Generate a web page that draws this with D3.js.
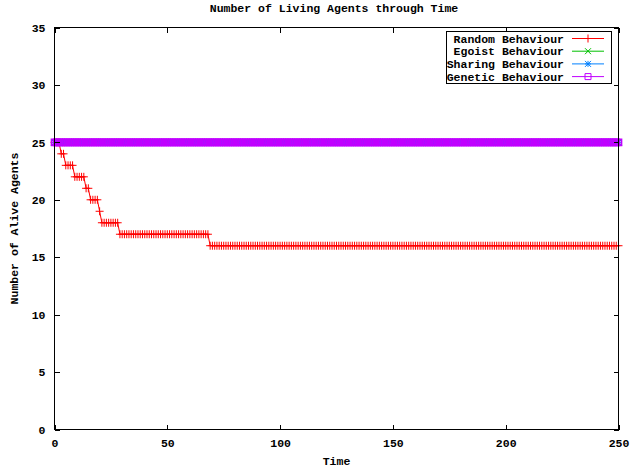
<!DOCTYPE html>
<html><head><meta charset="utf-8">
<script src="https://cdn.jsdelivr.net/npm/d3@7"></script>
<style>
body{margin:0;background:#fff}
text{font-family:"Liberation Mono","DejaVu Sans Mono",monospace;font-weight:bold;font-size:11.5px;fill:#000}
</style>
</head><body><svg id="c" width="631" height="472"></svg>
<script>
// ---- data ----
const title = "Number of Living Agents through Time";
const xLabel = "Time";
const yLabel = "Number of Alive Agents";
const xTicks = [0, 50, 100, 150, 200, 250];
const yTicks = [0, 5, 10, 15, 20, 25, 30, 35];
const seriesNames = ["Random Behaviour", "Egoist Behaviour", "Sharing Behaviour", "Genetic Behaviour"];
const seriesColors = ["#ff0000", "#00c000", "#0080ff", "#c000ff"];
const seriesMarkers = ["plus", "cross", "star", "square"];

// Time 0..250, one value per time step
const randomBehaviour = [
25,25,25,24,24,23,23,23,23,22,22,22,22,22,21,21,20,20,20,20,19,18,18,18,18,
18,18,18,18,17,17,17,17,17,17,17,17,17,17,17,17,17,17,17,17,17,17,17,17,17,
17,17,17,17,17,17,17,17,17,17,17,17,17,17,17,17,17,17,17,16,16,16,16,16,16,
16,16,16,16,16,16,16,16,16,16,16,16,16,16,16,16,16,16,16,16,16,16,16,16,16,
16,16,16,16,16,16,16,16,16,16,16,16,16,16,16,16,16,16,16,16,16,16,16,16,16,
16,16,16,16,16,16,16,16,16,16,16,16,16,16,16,16,16,16,16,16,16,16,16,16,16,
16,16,16,16,16,16,16,16,16,16,16,16,16,16,16,16,16,16,16,16,16,16,16,16,16,
16,16,16,16,16,16,16,16,16,16,16,16,16,16,16,16,16,16,16,16,16,16,16,16,16,
16,16,16,16,16,16,16,16,16,16,16,16,16,16,16,16,16,16,16,16,16,16,16,16,16,
16,16,16,16,16,16,16,16,16,16,16,16,16,16,16,16,16,16,16,16,16,16,16,16,16,
16];
const egoistBehaviour = [
25,25,25,25,25,25,25,25,25,25,25,25,25,25,25,25,25,25,25,25,25,25,25,25,25,
25,25,25,25,25,25,25,25,25,25,25,25,25,25,25,25,25,25,25,25,25,25,25,25,25,
25,25,25,25,25,25,25,25,25,25,25,25,25,25,25,25,25,25,25,25,25,25,25,25,25,
25,25,25,25,25,25,25,25,25,25,25,25,25,25,25,25,25,25,25,25,25,25,25,25,25,
25,25,25,25,25,25,25,25,25,25,25,25,25,25,25,25,25,25,25,25,25,25,25,25,25,
25,25,25,25,25,25,25,25,25,25,25,25,25,25,25,25,25,25,25,25,25,25,25,25,25,
25,25,25,25,25,25,25,25,25,25,25,25,25,25,25,25,25,25,25,25,25,25,25,25,25,
25,25,25,25,25,25,25,25,25,25,25,25,25,25,25,25,25,25,25,25,25,25,25,25,25,
25,25,25,25,25,25,25,25,25,25,25,25,25,25,25,25,25,25,25,25,25,25,25,25,25,
25,25,25,25,25,25,25,25,25,25,25,25,25,25,25,25,25,25,25,25,25,25,25,25,25,
25];
const sharingBehaviour = [
25,25,25,25,25,25,25,25,25,25,25,25,25,25,25,25,25,25,25,25,25,25,25,25,25,
25,25,25,25,25,25,25,25,25,25,25,25,25,25,25,25,25,25,25,25,25,25,25,25,25,
25,25,25,25,25,25,25,25,25,25,25,25,25,25,25,25,25,25,25,25,25,25,25,25,25,
25,25,25,25,25,25,25,25,25,25,25,25,25,25,25,25,25,25,25,25,25,25,25,25,25,
25,25,25,25,25,25,25,25,25,25,25,25,25,25,25,25,25,25,25,25,25,25,25,25,25,
25,25,25,25,25,25,25,25,25,25,25,25,25,25,25,25,25,25,25,25,25,25,25,25,25,
25,25,25,25,25,25,25,25,25,25,25,25,25,25,25,25,25,25,25,25,25,25,25,25,25,
25,25,25,25,25,25,25,25,25,25,25,25,25,25,25,25,25,25,25,25,25,25,25,25,25,
25,25,25,25,25,25,25,25,25,25,25,25,25,25,25,25,25,25,25,25,25,25,25,25,25,
25,25,25,25,25,25,25,25,25,25,25,25,25,25,25,25,25,25,25,25,25,25,25,25,25,
25];
const geneticBehaviour = [
25,25,25,25,25,25,25,25,25,25,25,25,25,25,25,25,25,25,25,25,25,25,25,25,25,
25,25,25,25,25,25,25,25,25,25,25,25,25,25,25,25,25,25,25,25,25,25,25,25,25,
25,25,25,25,25,25,25,25,25,25,25,25,25,25,25,25,25,25,25,25,25,25,25,25,25,
25,25,25,25,25,25,25,25,25,25,25,25,25,25,25,25,25,25,25,25,25,25,25,25,25,
25,25,25,25,25,25,25,25,25,25,25,25,25,25,25,25,25,25,25,25,25,25,25,25,25,
25,25,25,25,25,25,25,25,25,25,25,25,25,25,25,25,25,25,25,25,25,25,25,25,25,
25,25,25,25,25,25,25,25,25,25,25,25,25,25,25,25,25,25,25,25,25,25,25,25,25,
25,25,25,25,25,25,25,25,25,25,25,25,25,25,25,25,25,25,25,25,25,25,25,25,25,
25,25,25,25,25,25,25,25,25,25,25,25,25,25,25,25,25,25,25,25,25,25,25,25,25,
25,25,25,25,25,25,25,25,25,25,25,25,25,25,25,25,25,25,25,25,25,25,25,25,25,
25];
const seriesValues = [randomBehaviour, egoistBehaviour, sharingBehaviour, geneticBehaviour];

// ---- drawing ----
const svg = d3.select("#c");
const L = 54.5, R = 618.5, T = 27.5, B = 429.5;
const x = d3.scaleLinear().domain([0, 250]).range([L, R]);
const y = d3.scaleLinear().domain([0, 35]).range([B, T]);

const markerPath = {
  plus:   "M-4,0H4M0,-4V4",
  cross:  "M-3,-3L3,3M-3,3L3,-3",
  star:   "M-3,0H3M0,-3V3M-3,-3L3,3M-3,3L3,-3",
  square: "M-3,-3H3V3H-3Z"
};
const markerWidth = [1, 1, 1, 1.7];

// series
seriesValues.forEach((vals, si) => {
  const g = svg.append("g");
  const line = d3.line().x((d, i) => x(i)).y(d => y(d));
  g.append("path").datum(vals).attr("d", line)
    .attr("fill", "none").attr("stroke", seriesColors[si]).attr("stroke-width", 1);
  g.selectAll("path.m").data(vals).join("path").attr("class", "m")
    .attr("transform", (d, i) => `translate(${x(i)},${y(d)})`)
    .attr("d", markerPath[seriesMarkers[si]])
    .attr("fill", "none").attr("stroke", seriesColors[si]).attr("stroke-width", markerWidth[si]);
});

// axes (ticks inward, mirrored)
const tl = 5;
const axB = d3.axisBottom(x).tickValues(xTicks).tickSizeInner(-tl).tickSizeOuter(0).tickPadding(9);
const axT = d3.axisTop(x).tickValues(xTicks).tickSizeInner(-tl).tickSizeOuter(0).tickFormat("");
const axLft = d3.axisLeft(y).tickValues(yTicks).tickSizeInner(-tl).tickSizeOuter(0).tickPadding(9);
const axRt = d3.axisRight(y).tickValues(yTicks).tickSizeInner(-tl).tickSizeOuter(0).tickFormat("");
function style(g){
  g.select(".domain").remove();
  g.selectAll("line").attr("stroke", "#000").attr("shape-rendering", "crispEdges");
  g.selectAll("text").attr("font-family", null).attr("font-size", null).attr("fill", "#000");
}
svg.append("g").attr("transform", `translate(0,${B})`).call(axB).call(style);
svg.append("g").attr("transform", `translate(0,${T})`).call(axT).call(style);
svg.append("g").attr("transform", `translate(${L},0)`).call(axLft).call(style);
svg.append("g").attr("transform", `translate(${R},0)`).call(axRt).call(style);

// border
svg.append("rect").attr("x", L).attr("y", T).attr("width", R - L).attr("height", B - T)
  .attr("fill", "none").attr("stroke", "#000").attr("stroke-width", 1).attr("shape-rendering", "crispEdges");

// titles
svg.append("text").attr("x", 334).attr("y", 11.5).attr("text-anchor", "middle").text(title);
svg.append("text").attr("x", (L + R) / 2).attr("y", 465).attr("text-anchor", "middle").text(xLabel);
svg.append("text").attr("transform", `translate(17.5,${(T + B) / 2}) rotate(-90)`)
  .attr("text-anchor", "middle").text(yLabel);

// legend
const lg = svg.append("g");
lg.append("rect").attr("x", 446.5).attr("y", 31.5).attr("width", 165).attr("height", 52)
  .attr("fill", "#fff").attr("stroke", "#000").attr("shape-rendering", "crispEdges");
seriesNames.forEach((name, i) => {
  const ry = 38.5 + i * 12.7;
  lg.append("text").attr("x", 564).attr("y", ry + 4).attr("text-anchor", "end").text(name);
  lg.append("line").attr("x1", 572).attr("x2", 604).attr("y1", ry).attr("y2", ry)
    .attr("stroke", seriesColors[i]);
  lg.append("path").attr("transform", `translate(588,${ry})`).attr("d", markerPath[seriesMarkers[i]])
    .attr("fill", "none").attr("stroke", seriesColors[i]);
});
</script>
</body></html>
